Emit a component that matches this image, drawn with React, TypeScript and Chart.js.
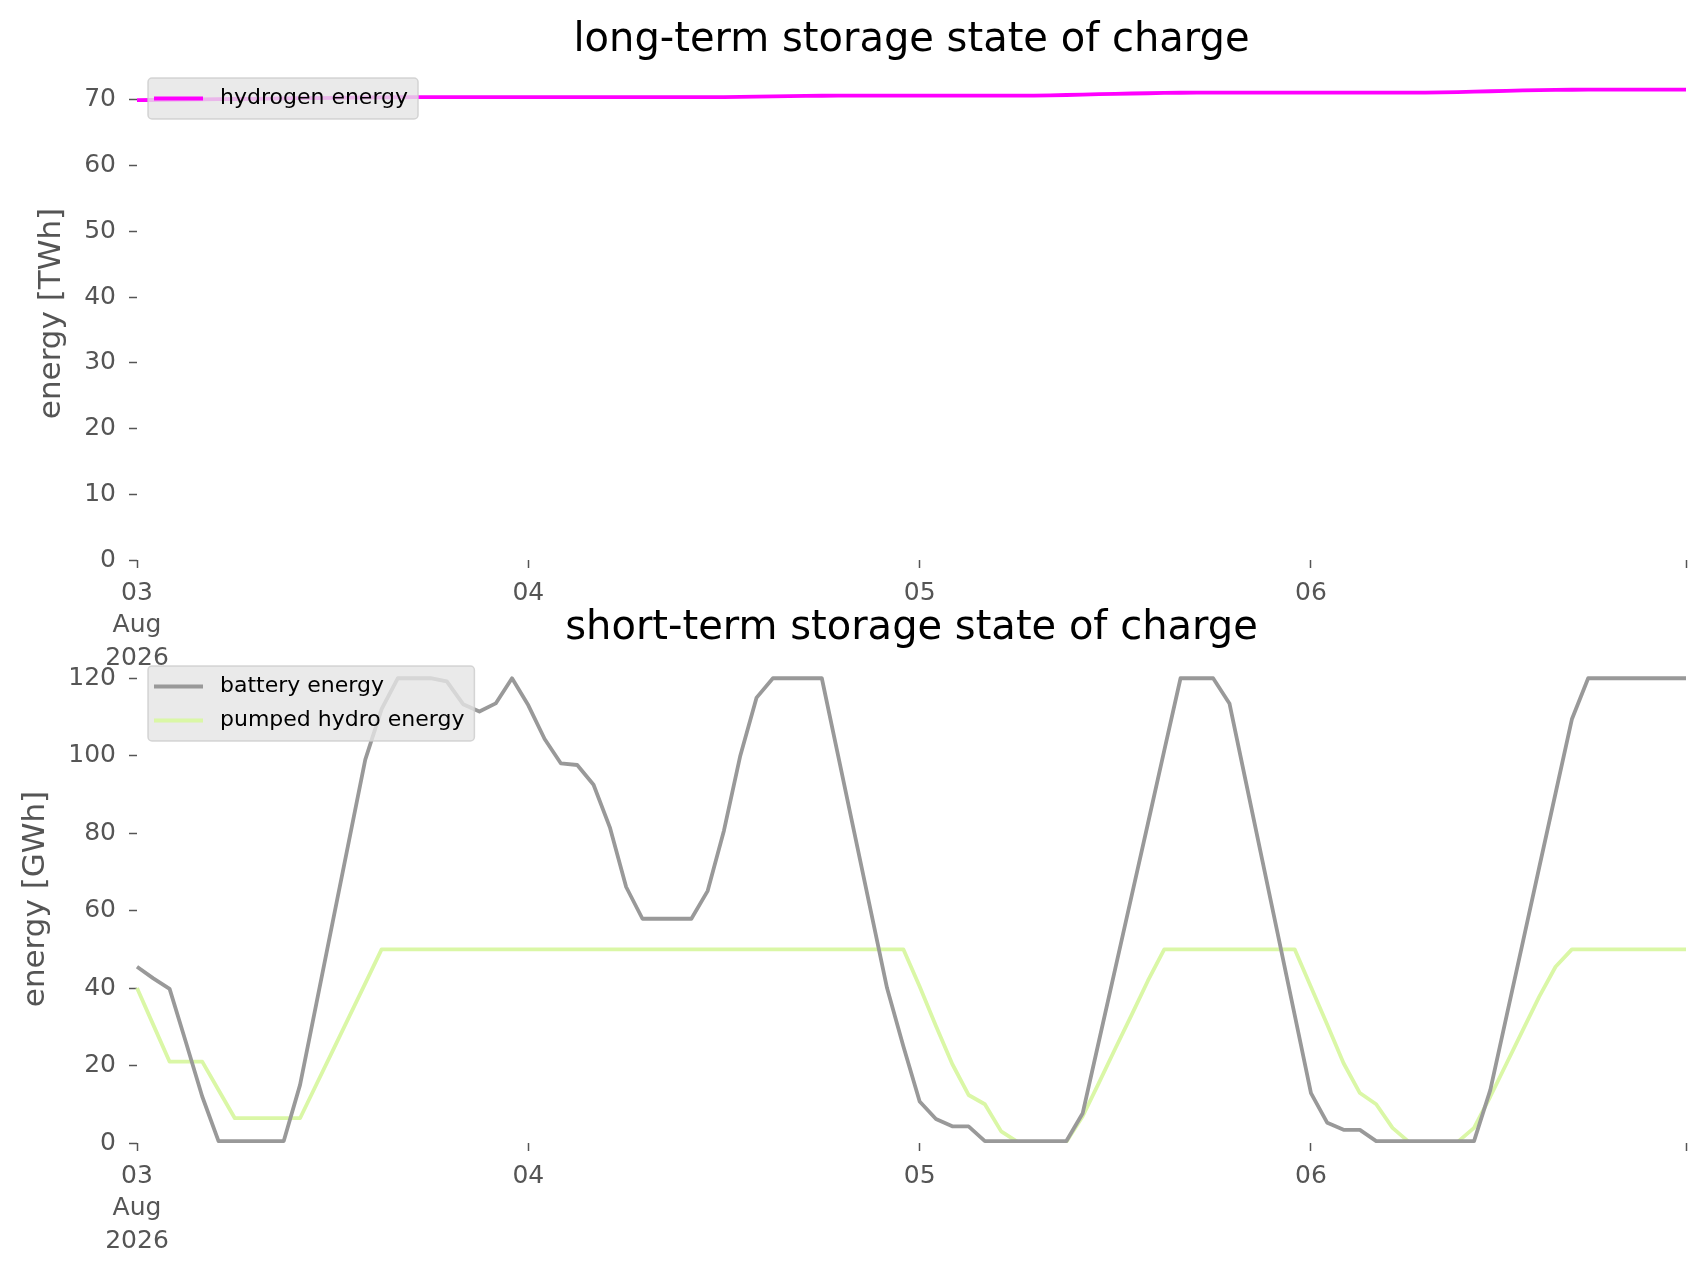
import { useEffect, useRef } from 'react';
import { Chart, registerables } from 'chart.js';

Chart.register(...registerables);

const FONT = 'DejaVu Sans';
const TICK_GRAY = '#555555';
Chart.defaults.font.family = FONT;

// hourly state of charge, 03 Aug 2026 00:00 .. 06 Aug 2026 23:00
const HYDROGEN_TWH = [
  69.95, 69.98, 70.01, 70.04, 70.07, 70.1, 70.13, 70.16, 70.19, 70.22, 70.25, 70.28,
  70.31, 70.34, 70.36, 70.38, 70.4, 70.41, 70.42, 70.42, 70.42, 70.42, 70.42, 70.42,
  70.42, 70.42, 70.42, 70.42, 70.42, 70.42, 70.42, 70.42, 70.42, 70.42, 70.42, 70.42,
  70.42, 70.44, 70.48, 70.53, 70.57, 70.61, 70.63, 70.65, 70.66, 70.66, 70.66, 70.66,
  70.66, 70.66, 70.66, 70.66, 70.66, 70.66, 70.66, 70.66, 70.69, 70.74, 70.8, 70.86,
  70.92, 70.97, 71.01, 71.05, 71.08, 71.1, 71.11, 71.11, 71.11, 71.11, 71.11, 71.11,
  71.11, 71.11, 71.11, 71.11, 71.11, 71.11, 71.11, 71.11, 71.14, 71.19, 71.25, 71.31,
  71.37, 71.43, 71.48, 71.52, 71.54, 71.55, 71.55, 71.55, 71.55, 71.55, 71.55, 71.55,
];

const BATTERY_GWH = [
  45.5, 42.5, 39.8, 26, 12, 0.5, 0.5, 0.5, 0.5, 0.5, 15, 36,
  57, 78, 99, 112, 120, 120, 120, 119.2, 113.3, 111.4, 113.5, 120,
  113, 104.3, 98, 97.6, 92.5, 81.5, 66.1, 57.9, 57.9, 57.9, 57.9, 65.1,
  80.7, 100, 115, 120, 120, 120, 120, 100, 80, 60, 40, 25,
  10.7, 6.2, 4.3, 4.3, 0.5, 0.5, 0.5, 0.5, 0.5, 0.5, 7.7, 26.4,
  45.1, 63.8, 82.5, 101.3, 120, 120, 120, 113.5, 93.4, 73.3, 53.2, 33.1,
  12.9, 5.2, 3.4, 3.4, 0.5, 0.5, 0.5, 0.5, 0.5, 0.5, 0.5, 13.7,
  32.9, 52, 71.2, 90.3, 109.4, 120, 120, 120, 120, 120, 120, 120,
];

const PUMPED_HYDRO_GWH = [
  40, 30.5, 21, 21, 21, 13.7, 6.4, 6.4, 6.4, 6.4, 6.4, 15.1,
  23.8, 32.5, 41.2, 50, 50, 50, 50, 50, 50, 50, 50, 50,
  50, 50, 50, 50, 50, 50, 50, 50, 50, 50, 50, 50,
  50, 50, 50, 50, 50, 50, 50, 50, 50, 50, 50, 50,
  40.4, 30.2, 20.4, 12.4, 10, 3, 0.3, 0.3, 0.3, 0.3, 6.9, 15.6,
  24.4, 33.1, 41.9, 50, 50, 50, 50, 50, 50, 50, 50, 50,
  40.3, 30.5, 20.6, 12.9, 10, 3.9, 0.3, 0.3, 0.3, 0.3, 3.9, 12,
  20.6, 29.2, 37.8, 45.5, 50, 50, 50, 50, 50, 50, 50, 50,
];

const START_TIME = Date.UTC(2026, 7, 3, 0);
const TIMES = HYDROGEN_TWH.map((_, i) =>
  new Date(START_TIME + i * 3600000).toISOString().slice(0, 16)
);

const X_TICK_INDEX = [0, 24, 48, 72, 95];
const X_TICK_TEXT: Record<number, string | string[]> = {
  0: ['03', 'Aug', '2026'],
  24: '04',
  48: '05',
  72: '06',
};
const LONG_TERM_TICKS = [0, 10, 20, 30, 40, 50, 60, 70];
const SHORT_TERM_TICKS = [0, 20, 40, 60, 80, 100, 120];

const LINE_WIDTH = 3.8;

interface Series {
  label: string;
  data: number[];
  color: string;
}

// matplotlib-style legend box drawn over the lines
const boxLegend = {
  id: 'boxLegend',
  afterDraw(chart: Chart) {
    const { ctx, chartArea } = chart;
    const items = chart.data.datasets;
    ctx.save();
    ctx.font = `22px "${FONT}"`;
    const textWidth = Math.max(...items.map((d) => ctx.measureText(String(d.label)).width));
    const x = chartArea.left + 11;
    const y = chartArea.top + 11;
    const w = 72 + textWidth + 10;
    const h = 7 + items.length * 34;
    ctx.beginPath();
    ctx.roundRect(x, y, w, h, 4);
    ctx.fillStyle = 'rgba(229, 229, 229, 0.8)';
    ctx.fill();
    ctx.lineWidth = 1.5;
    ctx.strokeStyle = 'rgba(204, 204, 204, 0.8)';
    ctx.stroke();
    items.forEach((d, i) => {
      const cy = y + 20.5 + i * 34;
      ctx.beginPath();
      ctx.moveTo(x + 6, cy);
      ctx.lineTo(x + 55, cy);
      ctx.strokeStyle = d.borderColor as string;
      ctx.lineWidth = LINE_WIDTH;
      ctx.stroke();
      ctx.fillStyle = '#000000';
      ctx.textBaseline = 'middle';
      ctx.textAlign = 'left';
      ctx.fillText(String(d.label), x + 72, cy);
    });
    ctx.restore();
  },
};

interface PanelProps {
  title: string;
  yTitle: string;
  series: Series[];
  yMax: number;
  yTicks: number[];
  top: number;
  height: number;
  axisHeight: number;
  titlePad: { top: number; bottom: number };
  yTitlePad: number;
}

function StoragePanel({
  title,
  yTitle,
  series,
  yMax,
  yTicks,
  top,
  height,
  axisHeight,
  titlePad,
  yTitlePad,
}: PanelProps) {
  const canvasRef = useRef<HTMLCanvasElement>(null);

  useEffect(() => {
    if (!canvasRef.current) return;

    const chart = new Chart(canvasRef.current, {
      type: 'line',
      data: {
        labels: TIMES,
        datasets: series.map((s) => ({
          label: s.label,
          data: s.data,
          borderColor: s.color,
          backgroundColor: s.color,
          borderWidth: LINE_WIDTH,
          borderJoinStyle: 'round' as const,
          pointRadius: 0,
          tension: 0,
          fill: false,
        })),
      },
      options: {
        animation: false,
        responsive: true,
        maintainAspectRatio: false,
        events: [],
        layout: { padding: { left: 0, right: 20, top: 0, bottom: 0 } },
        plugins: {
          legend: { display: false },
          tooltip: { enabled: false },
          title: {
            display: true,
            fullSize: false,
            text: title,
            color: '#000000',
            font: { family: FONT, size: 40, weight: 'normal', lineHeight: 1.2 },
            padding: titlePad,
          },
        },
        scales: {
          x: {
            type: 'category',
            offset: false,
            afterBuildTicks: (scale) => {
              scale.ticks = X_TICK_INDEX.map((value) => ({ value }));
            },
            afterFit: (scale) => {
              scale.height = axisHeight;
            },
            ticks: {
              autoSkip: false,
              maxRotation: 0,
              minRotation: 0,
              color: TICK_GRAY,
              padding: 9,
              font: { family: FONT, size: 25, lineHeight: 1.3 },
              callback: (value) => X_TICK_TEXT[value as number] ?? '',
            },
            grid: {
              drawOnChartArea: false,
              drawTicks: true,
              tickLength: 8,
              tickColor: TICK_GRAY,
              tickWidth: 1.5,
            },
            border: { display: false },
          },
          y: {
            type: 'linear',
            min: 0,
            max: yMax,
            afterBuildTicks: (scale) => {
              scale.ticks = yTicks.map((value) => ({ value }));
            },
            afterFit: (scale) => {
              scale.width = 137;
            },
            ticks: {
              color: TICK_GRAY,
              padding: 13,
              font: { family: FONT, size: 25 },
            },
            grid: {
              drawOnChartArea: false,
              drawTicks: true,
              tickLength: 8,
              tickColor: TICK_GRAY,
              tickWidth: 1.5,
            },
            border: { display: false },
            title: {
              display: true,
              text: yTitle,
              color: TICK_GRAY,
              font: { family: FONT, size: 31, lineHeight: 1.2 },
              padding: { top: yTitlePad, bottom: 0 },
            },
          },
        },
      },
      plugins: [boxLegend],
    });

    return () => {
      chart.destroy();
    };
  }, [title, yTitle, series, yMax, yTicks, axisHeight, titlePad, yTitlePad]);

  return (
    <div style={{ position: 'absolute', left: 0, top, width: 1706, height }}>
      <canvas ref={canvasRef} />
    </div>
  );
}

const LONG_TERM_SERIES: Series[] = [
  { label: 'hydrogen energy', data: HYDROGEN_TWH, color: '#ff00ff' },
];
const SHORT_TERM_SERIES: Series[] = [
  { label: 'battery energy', data: BATTERY_GWH, color: '#999999' },
  { label: 'pumped hydro energy', data: PUMPED_HYDRO_GWH, color: '#daf7a6' },
];
const LONG_TITLE_PAD = { top: 17, bottom: 2 };
const SHORT_TITLE_PAD = { top: 15, bottom: 2 };

export default function App() {
  return (
    <div
      style={{
        position: 'absolute',
        left: 0,
        top: 0,
        width: 1706,
        height: 1277,
        background: '#ffffff',
        overflow: 'hidden',
      }}
    >
      <StoragePanel
        title="long-term storage state of charge"
        yTitle="energy [TWh]"
        series={LONG_TERM_SERIES}
        yMax={75}
        yTicks={LONG_TERM_TICKS}
        top={0}
        height={700}
        axisHeight={140}
        titlePad={LONG_TITLE_PAD}
        yTitlePad={33}
      />
      <StoragePanel
        title="short-term storage state of charge"
        yTitle="energy [GWh]"
        series={SHORT_TERM_SERIES}
        yMax={126}
        yTicks={SHORT_TERM_TICKS}
        top={590}
        height={687}
        axisHeight={134}
        titlePad={SHORT_TITLE_PAD}
        yTitlePad={17}
      />
    </div>
  );
}
